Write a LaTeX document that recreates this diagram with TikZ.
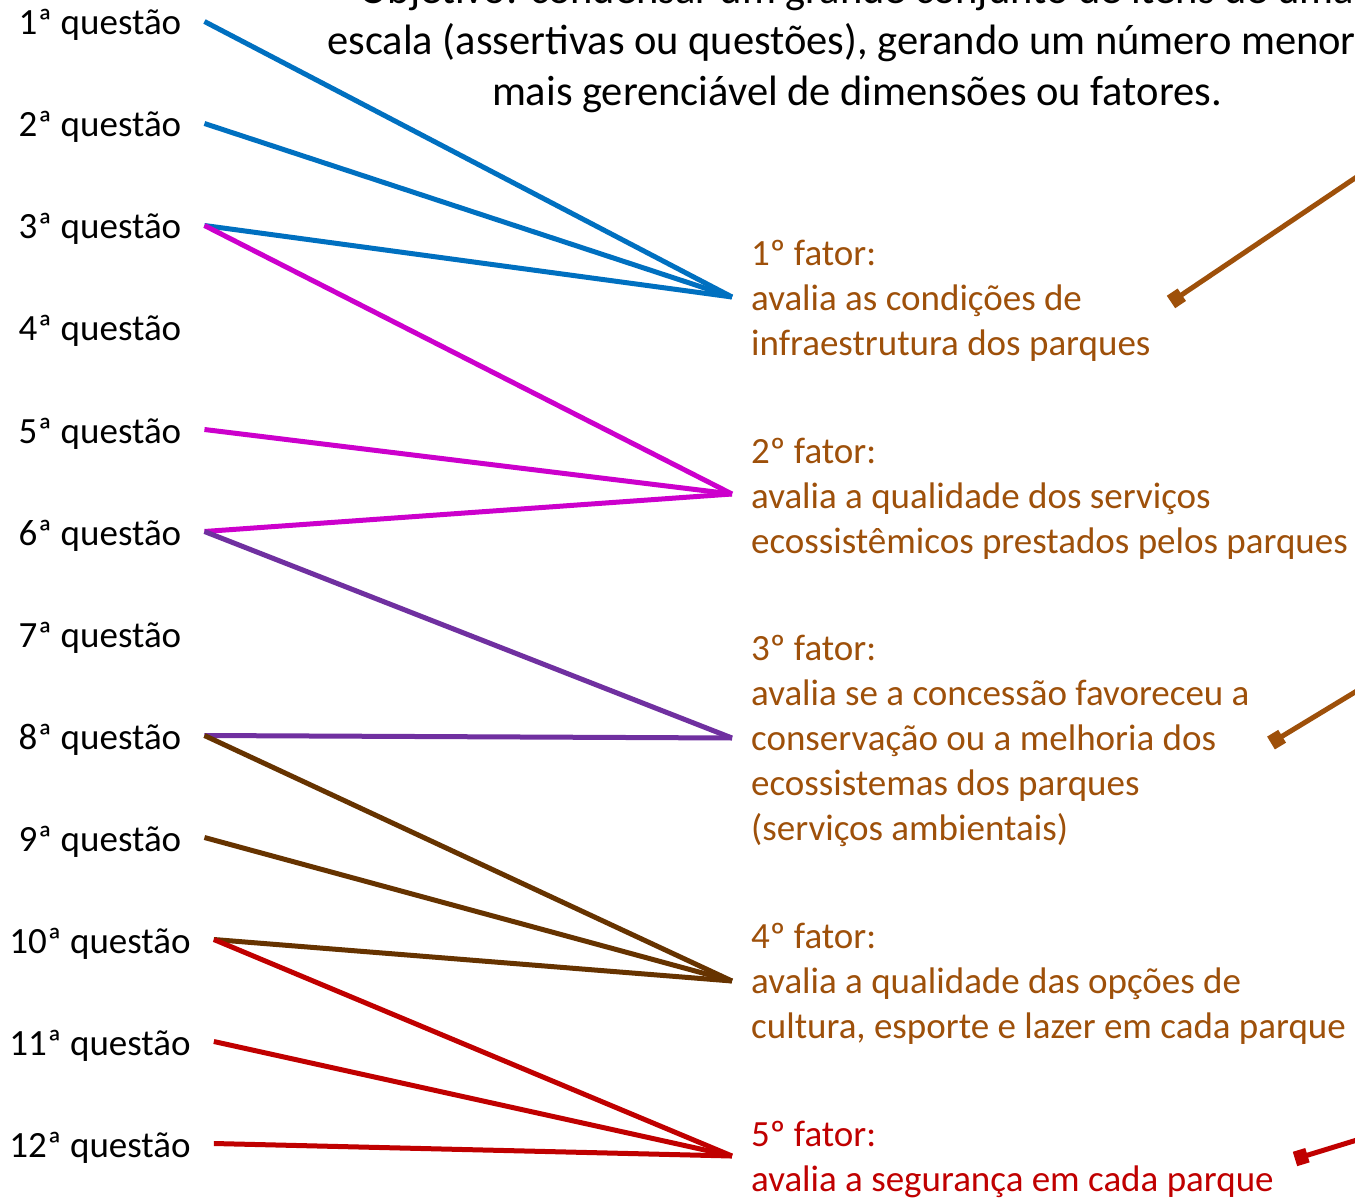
\documentclass[tikz,border=0pt]{standalone}
\usepackage{fontspec}
\setmainfont{Carlito}
\usetikzlibrary{arrows.meta}
\definecolor{cblue}{RGB}{0,112,192}
\definecolor{cmag}{RGB}{204,0,204}
\definecolor{cpur}{RGB}{112,48,160}
\definecolor{cbrn}{RGB}{102,51,0}
\definecolor{cred}{RGB}{192,0,0}
\definecolor{corg}{RGB}{158,80,10}
\begin{document}
\begin{tikzpicture}[x=1pt,y=-1pt,
  q/.style={font=\fontsize{37}{44}\selectfont, inner xsep=23pt, inner ysep=0pt, text height=27pt, text depth=0pt, anchor=base},
  lab/.style={font=\fontsize{37}{45}\selectfont, inner sep=0pt, anchor=north west, align=left, text=corg},
  con/.style={line width=5pt},
  ptr/.style={line width=5pt, draw=corg, -{Square[length=13pt,width=15pt]}}]
\useasboundingbox (0,0) rectangle (1355,1198);
\clip (0,0) rectangle (1355,1198);
\fill[white] (0,0) rectangle (1355,1198);

% title
\node[font=\fontsize{42.5}{51}\selectfont, align=center, anchor=north, inner sep=0pt] (title) at (857,-26)
  {Objetivo: condensar um grande conjunto de itens de uma\\
   escala (assertivas ou questões), gerando um número menor\hphantom{ e}\\
   mais gerenciável de dimensões ou fatores.};

% questions
\node[q] (q1) at (100,35) {1ª questão};
\node[q] (q2) at (100,137) {2ª questão};
\node[q] (q3) at (100,239) {3ª questão};
\node[q] (q4) at (100,341) {4ª questão};
\node[q] (q5) at (100,443) {5ª questão};
\node[q] (q6) at (100,545) {6ª questão};
\node[q] (q7) at (100,647) {7ª questão};
\node[q] (q8) at (100,749) {8ª questão};
\node[q] (q9) at (100,851) {9ª questão};
\node[q] (q10) at (100,953) {10ª questão};
\node[q] (q11) at (100,1055) {11ª questão};
\node[q] (q12) at (100,1157) {12ª questão};

% factor anchor points
\coordinate (f1) at (732,297);
\coordinate (f2) at (732,494);
\coordinate (f3) at (732,738);
\coordinate (f4) at (732,981);
\coordinate (f5) at (732,1156);

% factor labels
\node[lab] (l1) at (751,240) {1º fator:\\avalia as condições de\\infraestrutura dos parques};
\node[lab] (l2) at (751,438) {2º fator:\\avalia a qualidade dos serviços\\ecossistêmicos prestados pelos parques};
\node[lab] (l3) at (751,635) {3º fator:\\avalia se a concessão favoreceu a\\conservação ou a melhoria dos\\ecossistemas dos parques\\(serviços ambientais)};
\node[lab] (l4) at (751,923) {4º fator:\\avalia a qualidade das opções de\\cultura, esporte e lazer em cada parque};
\node[lab, text=cred] (l5) at (751,1121) {5º fator:\\avalia a segurança em cada parque};

% connectors
\draw[con, cblue] (q1.east) -- (f1);
\draw[con, cblue] (q2.east) -- (f1);
\draw[con, cblue] (q3.east) -- (f1);
\draw[con, cmag] (q3.east) -- (f2);
\draw[con, cmag] (q5.east) -- (f2);
\draw[con, cmag] (q6.east) -- (f2);
\draw[con, cpur] (q6.east) -- (f3);
\draw[con, cpur] (q8.east) -- (f3);
\draw[con, cbrn] (q8.east) -- (f4);
\draw[con, cbrn] (q9.east) -- (f4);
\draw[con, cbrn] (q10.east) -- (f4);
\draw[con, cred] (q10.east) -- (f5);
\draw[con, cred] (q11.east) -- (f5);
\draw[con, cred] (q12.east) -- (f5);

% pointer arrows from the right
\coordinate (p1s) at (1370,168);
\coordinate (p1e) at (1171,302);
\coordinate (p2s) at (1370,683);
\coordinate (p2e) at (1271,743);
\coordinate (p3s) at (1370,1136);
\coordinate (p3e) at (1295,1159);
\draw[ptr] (p1s) -- (p1e);
\draw[ptr] (p2s) -- (p2e);
\draw[ptr, draw=cred] (p3s) -- (p3e);
\end{tikzpicture}
\end{document}
